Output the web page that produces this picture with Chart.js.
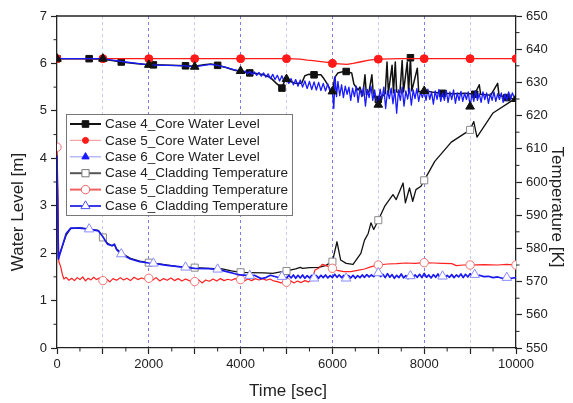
<!DOCTYPE html>
<html>
<head>
<meta charset="utf-8">
<script src="https://cdn.jsdelivr.net/npm/chart.js@4.4.1/dist/chart.umd.min.js"></script>
<style>
  html, body { margin: 0; padding: 0; background: #fff; }
  #wrap { width: 573px; height: 403px; position: relative; }
</style>
</head>
<body>
<div id="wrap"><canvas id="c" width="573" height="403"></canvas></div>
<script>
// ---- Series: [time (s), value] ----
// Core water level [m] (left axis)
const level4 = [[0,6.10],[300,6.10],[700,6.10],[1000,6.09],[1200,6.06],[1400,6.03],[1700,6.00],[2000,5.97],[2100,5.97],[2500,5.96],[2800,5.95],[3000,5.94],[3200,5.97],[3350,5.99],[3500,5.96],[3700,5.91],[3850,5.86],[4000,5.83],[4200,5.80],[4350,5.79],[4500,5.76],[4650,5.70],[4780,5.58],[4900,5.48],[4960,5.64],[5000,5.70],[5080,5.62],[5200,5.58],[5330,5.58],[5400,5.74],[5480,5.77],[5600,5.76],[5750,5.76],[5800,5.70],[5880,5.58],[5960,5.44],[6000,5.40],[6050,5.70],[6120,5.80],[6200,5.82],[6300,5.83],[6420,5.80],[6470,5.56],[6560,5.44],[6600,5.50],[6660,5.32],[6710,5.76],[6740,5.34],[6800,5.42],[6860,5.76],[6890,5.36],[6940,5.26],[7000,5.24],[7080,5.30],[7150,5.36],[7190,6.03],[7220,5.38],[7300,5.96],[7330,5.38],[7370,6.03],[7400,5.40],[7470,5.38],[7520,6.06],[7550,5.40],[7630,6.03],[7660,5.40],[7700,6.12],[7730,5.42],[7850,5.90],[7880,5.40],[8000,5.43],[8200,5.39],[8400,5.37],[8650,5.36],[8900,5.37],[9100,5.35],[9200,5.55],[9230,5.35],[9450,5.33],[9600,5.58],[9630,5.33],[9800,5.28],[10000,5.24]];
const level5 = [[0,6.10],[1000,6.10],[2000,6.10],[3000,6.10],[4000,6.10],[5000,6.10],[5300,6.09],[5450,6.07],[5580,6.06],[5750,6.04],[5900,6.02],[6000,6.00],[6150,5.99],[6320,5.98],[6450,6.00],[6600,6.03],[6800,6.07],[7000,6.09],[7500,6.10],[8000,6.10],[9000,6.10],[10000,6.10]];
const level6 = [[0,6.10],[500,6.10],[1000,6.10],[1200,6.07],[1500,6.03],[2000,5.97],[2400,5.96],[2800,5.95],[3000,5.93],[3200,5.96],[3350,5.98],[3500,5.96],[3700,5.91],[3850,5.87],[4000,5.84],
  [4050,5.79],[4100,5.84],[4150,5.78],[4200,5.83],[4250,5.77],[4300,5.82],[4350,5.75],[4400,5.81],[4450,5.73],[4500,5.80],[4550,5.71],[4600,5.78],[4650,5.68],[4700,5.77],[4750,5.66],[4800,5.75],[4850,5.63],[4900,5.74],[4950,5.61],[5000,5.67],
  [5050,5.58],[5100,5.68],[5150,5.55],[5200,5.66],[5250,5.52],[5300,5.65],[5350,5.50],[5400,5.63],[5450,5.47],[5500,5.62],[5550,5.45],[5600,5.61],[5650,5.44],[5700,5.60],[5750,5.43],[5800,5.58],[5850,5.42],[5900,5.57],[5950,5.40],[6000,5.41],
  [6030,5.05],[6060,5.72],[6090,5.30],[6120,5.62],[6160,5.32],[6200,5.55],[6240,5.28],[6280,5.52],[6320,5.35],[6360,5.50],[6400,5.22],[6440,5.48],[6480,5.30],[6520,5.52],[6560,5.18],[6600,5.46],[6640,5.30],[6680,5.50],[6720,5.10],[6760,5.45],[6800,5.28],[6840,5.52],[6880,5.22],[6920,5.44],[6960,5.20],[7000,5.13],
  [7040,5.46],[7080,5.25],[7120,5.50],[7160,5.05],[7200,5.42],[7240,5.26],[7280,5.48],[7320,5.15],[7360,5.45],[7400,4.95],[7440,5.44],[7480,5.22],[7520,5.50],[7560,5.10],[7600,5.42],[7640,5.25],[7680,5.48],[7720,5.12],[7760,5.44],[7800,5.26],[7840,5.47],[7880,5.20],[7920,5.40],[7960,5.28],[8000,5.42],
  [8040,5.22],[8080,5.46],[8120,5.24],[8160,5.40],[8200,5.14],[8240,5.42],[8280,5.24],[8320,5.45],[8360,5.20],[8400,5.38],[8440,5.22],[8480,5.43],[8520,5.18],[8560,5.40],[8600,5.24],[8640,5.44],[8680,5.16],[8720,5.38],[8760,5.22],[8800,5.41],[8840,5.20],[8880,5.37],[8920,5.24],[8960,5.40],[9000,5.09],
  [9040,5.36],[9080,5.20],[9120,5.42],[9160,5.22],[9200,5.36],[9240,5.18],[9280,5.40],[9320,5.24],[9360,5.38],[9400,5.16],[9440,5.36],[9480,5.22],[9520,5.40],[9560,5.20],[9600,5.36],[9640,5.24],[9680,5.38],[9720,5.18],[9760,5.35],[9800,5.22],[9840,5.40],[9880,5.24],[9920,5.38],[9960,5.28],[10000,5.25]];

// Cladding temperature [K] (right axis)
const temp4 = [[0,608],[30,577.5],[100,580],[200,584],[300,586],[500,586.2],[700,585.8],[900,585.4],[1000,583.3],[1100,581.5],[1200,580.8],[1250,581.2],[1300,579.8],[1400,578.6],[1600,577],[1800,576.2],[2000,575.7],[2300,575.2],[2600,574.6],[3000,574.2],[3300,574.0],[3600,573.8],[3800,573.2],[4000,572.8],[4200,572.7],[4500,572.6],[4700,572.5],[4900,573.0],[5000,573.2],[5200,573.8],[5300,574.3],[5350,574.0],[5500,574.2],[5700,574.3],[5850,574.8],[6000,576],[6100,582],[6180,576.5],[6300,575.5],[6450,575.2],[6620,578.5],[6700,582.5],[6780,584.5],[6840,587.7],[6900,585.7],[7000,588.5],[7140,592.7],[7320,596.2],[7390,594.7],[7540,599.7],[7590,593.7],[7680,598.2],[7750,594.2],[7820,597.7],[7930,598.7],[8000,600.5],[8230,606.2],[8590,612],[9000,615.7],[9080,618.2],[9150,613.5],[9500,620.8],[9880,624.2],[10000,625.3]];
const temp5 = [[0,610.5],[40,576],[80,574.5],[120,572],[150,570.8],[200,571.3],[260,570.4],[320,571.0],[380,570.3],[440,571.2],[500,570.6],[560,571.4],[620,570.2],[680,571.0],[740,570.5],[800,571.3],[860,570.6],[920,571.1],[1000,570.3],[1080,570.8],[1150,569.9],[1220,570.9],[1300,570.4],[1380,571.2],[1450,570.5],[1520,571.0],[1600,570.3],[1680,571.3],[1760,570.6],[1840,571.1],[1920,570.7],[2000,571.0],[2080,570.4],[2160,571.2],[2240,570.2],[2320,570.9],[2400,570.4],[2480,571.1],[2560,570.3],[2640,570.9],[2720,570.2],[2800,570.8],[2880,570.3],[2960,569.9],[3000,570.0],[3080,570.6],[3160,569.6],[3240,570.5],[3320,570.1],[3400,570.8],[3480,570.2],[3560,570.9],[3640,570.3],[3720,570.7],[3800,570.4],[3880,570.9],[3960,570.5],[4000,570.6],[4080,570.2],[4160,570.8],[4240,570.3],[4320,570.9],[4400,570.5],[4480,570.9],[4560,570.4],[4640,570.8],[4720,570.2],[4800,570.0],[4880,569.6],[4960,570.2],[5000,569.8],[5080,570.3],[5160,569.6],[5240,570.2],[5320,569.7],[5400,570.3],[5480,569.9],[5560,570.8],[5620,573.5],[5700,574.0],[5780,575.2],[5850,574.9],[5920,574.5],[6000,574.0],[6100,573.4],[6250,573.0],[6400,573.0],[6550,573.4],[6700,573.8],[6850,574.5],[7000,575.0],[7200,575.3],[7400,575.4],[7600,575.6],[7800,575.5],[8000,575.7],[8200,575.6],[8400,575.5],[8600,575.4],[8700,574.8],[8850,575.0],[9000,575.0],[9300,575.1],[9600,575.0],[9800,575.2],[10000,575.0]];
const temp6 = [[0,608],[30,576.8],[100,580],[200,584.5],[300,586.1],[500,586.1],[700,585.8],[900,585.3],[1000,583.5],[1100,581.3],[1200,580.8],[1250,581.3],[1300,579.6],[1400,578.3],[1600,576.8],[1800,576],[2000,575.6],[2100,575.5],[2400,574.9],[2800,574.3],[3000,574],[3300,573.9],[3500,573.7],[3700,573],[3900,572.3],[4000,572.0],[4200,571.8],[4300,571.9],[4450,570.9],[4550,571.2],[4650,571.9],[4800,571.3],[4900,571.5],
  [5000,571.0],[5050,571.9],[5100,571.1],[5150,572.0],[5200,571.0],[5250,571.9],[5300,571.1],[5350,572.0],[5400,571.0],[5450,571.8],[5500,571.1],[5550,571.9],[5600,571.0],[5650,571.8],[5700,571.0],[5750,571.9],[5800,571.2],[5850,572.0],[5900,571.1],[5950,571.8],
  [6000,571.2],[6050,572.2],[6100,571.3],[6150,572.0],[6200,571.2],[6250,571.9],[6300,571.0],[6350,571.8],[6400,571.1],[6450,571.9],[6500,571.0],[6550,571.8],[6600,571.2],[6650,572.0],[6700,571.3],[6750,572.1],[6800,571.4],[6850,572.0],[6900,571.5],[6950,572.3],
  [7000,572.6],[7050,571.5],[7100,572.2],[7150,571.2],[7200,572.4],[7250,571.3],[7300,572.1],[7350,571.0],[7400,571.9],[7450,571.2],[7500,572.3],[7550,571.1],[7600,571.8],[7650,570.9],[7700,571.7],[7750,571.2],[7800,572.0],[7850,571.3],[7900,572.2],[7950,571.2],
  [8000,572.5],[8050,571.3],[8100,572.0],[8150,571.1],[8200,572.1],[8250,571.3],[8300,572.3],[8350,571.0],[8400,571.6],[8450,571.2],[8500,571.9],[8550,571.3],[8600,572.1],[8650,571.2],[8700,572.0],[8750,571.4],[8800,572.3],[8850,571.2],[8900,572.2],[8950,571.4],
  [9000,572.4],[9050,571.6],[9100,572.1],[9150,571.6],[9200,571.9],[9300,571.5],[9400,571.6],[9500,571.2],[9600,571.4],[9700,571.0],[9800,571.2],[9900,571.0],[10000,571.2]];

// Times that carry a symbol
const marks700 = [0,700,1400,2100,2800,3500,4200,4900,5600,6300,7000,7700,8400,9100,9800];
const marks1000 = [0,1000,2000,3000,4000,5000,6000,7000,8000,9000,10000];
const marks1000NoEnds = [1000,2000,3000,4000,5000,6000,7000,8000,9000];

// Axis tick labels
const timeTickLabels = [0,2000,4000,6000,8000,10000];

const legendLabels = [
  'Case 4_Core Water Level',
  'Case 5_Core Water Level',
  'Case 6_Core Water Level',
  'Case 4_Cladding Temperature',
  'Case 5_Cladding Temperature',
  'Case 6_Cladding Temperature'
];

const FONT = "'Liberation Sans', Arial, Helvetica, sans-serif";
const INK = '#222';

function pts(series) { return series.map(([x, y]) => ({ x, y })); }
function markedRadius(times, r) {
  const set = new Set(times);
  return ctx => (ctx.raw && set.has(ctx.raw.x)) ? r : 0;
}

function makeSet(label, data, axis, color, width, marks, style, r, fill, stroke, order) {
  return {
    label, data: pts(data), yAxisID: axis,
    borderColor: color, borderWidth: width, tension: 0, fill: false,
    pointStyle: style, pointRadius: markedRadius(marks, r), pointHoverRadius: 0,
    pointBackgroundColor: fill, pointBorderColor: stroke, pointBorderWidth: 1,
    order
  };
}

const datasets = [
  makeSet(legendLabels[0], level4, 'y', '#111', 1.5, marks700, 'rect', 4.6, '#111', '#111', 3),
  makeSet(legendLabels[1], level5, 'y', '#ff1a1a', 1.3, marks1000, 'circle', 4, '#ff1a1a', '#ff1a1a', 2),
  makeSet(legendLabels[2], level6, 'y', '#1a1aff', 1.3, marks1000, 'triangle', 5, '#111', '#111', 1),
  makeSet(legendLabels[3], temp4, 'y2', '#111', 1.3, marks1000NoEnds, 'rect', 5, '#fff', '#8a8a8a', 6),
  makeSet(legendLabels[4], temp5, 'y2', '#ff2020', 1.2, marks1000, 'circle', 4.2, '#fff', '#f07070', 5),
  makeSet(legendLabels[5], temp6, 'y2', '#1a1aee', 1.7, marks700.slice(1), 'triangle', 5.5, '#fff', '#8a8aff', 4)
];

// Legend symbols: line colour, line width, marker shape, fill, stroke, size
const legendStyle = [
  ['#111', 2, 'square', '#111', '#111', 3.3],
  ['#f5a5a5', 1.2, 'circle', '#ff1a1a', '#ff1a1a', 3],
  ['#a8a8f5', 1.2, 'triangle', '#1a1aff', '#1a1aff', 4.2],
  ['#555', 2, 'square', '#fff', '#777', 3.6],
  ['#f06060', 2, 'circle', '#fff', '#f06060', 4.2],
  ['#3a3ae6', 2, 'triangle', '#fff', '#5050f0', 5.2]
];

function shape(ctx, kind, x, y, s, fill, stroke) {
  ctx.beginPath();
  if (kind === 'square') ctx.rect(x - s, y - s, 2 * s, 2 * s);
  else if (kind === 'circle') ctx.arc(x, y, s, 0, Math.PI * 2);
  else { ctx.moveTo(x, y - s); ctx.lineTo(x + s * 0.87, y + s * 0.5); ctx.lineTo(x - s * 0.87, y + s * 0.5); ctx.closePath(); }
  ctx.fillStyle = fill; ctx.fill();
  ctx.lineWidth = 1; ctx.strokeStyle = stroke; ctx.stroke();
}

const decorations = {
  id: 'decorations',
  afterDraw(chart) {
    const ctx = chart.ctx;
    const { left, right, top, bottom } = chart.chartArea;
    const xs = chart.scales.x, ys = chart.scales.y, y2 = chart.scales.y2;
    ctx.save();
    // frame top edge
    ctx.strokeStyle = INK; ctx.lineWidth = 1.3;
    ctx.beginPath(); ctx.moveTo(left, top); ctx.lineTo(right, top); ctx.stroke();
    // minor ticks
    ctx.lineWidth = 1;
    ctx.beginPath();
    for (let v = 0.5; v < 7; v += 1) { const p = ys.getPixelForValue(v); ctx.moveTo(left - 3.5, p); ctx.lineTo(left, p); }
    for (let v = 555; v < 650; v += 10) { const p = y2.getPixelForValue(v); ctx.moveTo(right, p); ctx.lineTo(right + 3.5, p); }
    for (let v = 500; v < 10000; v += 1000) { const p = xs.getPixelForValue(v); ctx.moveTo(p, bottom); ctx.lineTo(p, bottom + 3.5); }
    ctx.stroke();

    // legend box
    const bx = 66, by = 114, bw = 226, bh = 101;
    ctx.fillStyle = '#fff'; ctx.fillRect(bx, by, bw, bh);
    ctx.strokeStyle = '#777'; ctx.lineWidth = 1;
    ctx.strokeRect(bx + 0.5, by + 0.5, bw, bh);
    ctx.font = '13.5px ' + FONT; ctx.textBaseline = 'middle'; ctx.textAlign = 'left';
    legendLabels.forEach((txt, i) => {
      const yy = 124 + i * 16.4;
      const [lc, lw, kind, f, s, sz] = legendStyle[i];
      ctx.strokeStyle = lc; ctx.lineWidth = lw;
      ctx.beginPath(); ctx.moveTo(70, yy); ctx.lineTo(101, yy); ctx.stroke();
      shape(ctx, kind, 85.5, yy, sz, f, s);
      ctx.fillStyle = INK; ctx.fillText(txt, 105, yy + 0.5);
    });

    // axis titles
    ctx.fillStyle = INK; ctx.font = '17px ' + FONT; ctx.textAlign = 'center'; ctx.textBaseline = 'middle';
    ctx.fillText('Time [sec]', 288, 391);
    ctx.save(); ctx.translate(18, 212); ctx.rotate(-Math.PI / 2); ctx.fillText('Water Level [m]', 0, 0); ctx.restore();
    ctx.save(); ctx.translate(557, 207); ctx.rotate(Math.PI / 2); ctx.fillText('Temperature [K]', 0, 0); ctx.restore();
    ctx.restore();
  }
};

new Chart(document.getElementById('c'), {
  type: 'line',
  data: { datasets },
  options: {
    responsive: false, animation: false, devicePixelRatio: 1,
    layout: { padding: { top: 16, left: 0, right: 0, bottom: 0 } },
    plugins: { legend: { display: false }, tooltip: { enabled: false } },
    elements: { line: { borderJoinStyle: 'round' } },
    scales: {
      x: {
        type: 'linear', position: 'bottom', min: 0, max: 10000,
        ticks: {
          stepSize: 1000, autoSkip: false, maxRotation: 0, color: INK, padding: 3,
          font: { size: 13, family: FONT },
          callback: v => timeTickLabels.includes(v) ? String(v) : ''
        },
        grid: {
          drawOnChartArea: true, drawTicks: true, tickLength: 6, tickColor: INK, tickWidth: 1.2, lineWidth: 1,
          color: c => {
            const v = c.tick ? c.tick.value : 0;
            if (v === 0 || v === 10000) return 'rgba(0,0,0,0)';
            return v % 2000 === 0 ? 'rgba(80,80,225,0.75)' : 'rgba(150,150,225,0.5)';
          }
        },
        border: { display: true, color: INK, width: 1.3, dash: [3, 3] },
        afterFit: s => { s.height = 55; }
      },
      y: {
        position: 'left', min: 0, max: 7,
        ticks: { stepSize: 1, color: INK, padding: 4, font: { size: 13, family: FONT } },
        grid: { drawOnChartArea: false, drawTicks: true, tickLength: 6, tickColor: INK, tickWidth: 1.2 },
        border: { display: true, color: INK, width: 1.3 },
        afterFit: s => { s.width = 57; }
      },
      y2: {
        position: 'right', min: 550, max: 650,
        ticks: { stepSize: 10, color: INK, padding: 4, font: { size: 13, family: FONT } },
        grid: { drawOnChartArea: false, drawTicks: true, tickLength: 6, tickColor: INK, tickWidth: 1.2 },
        border: { display: true, color: INK, width: 1.3 },
        afterFit: s => { s.width = 57; }
      }
    }
  },
  plugins: [decorations]
});
</script>
</body>
</html>
